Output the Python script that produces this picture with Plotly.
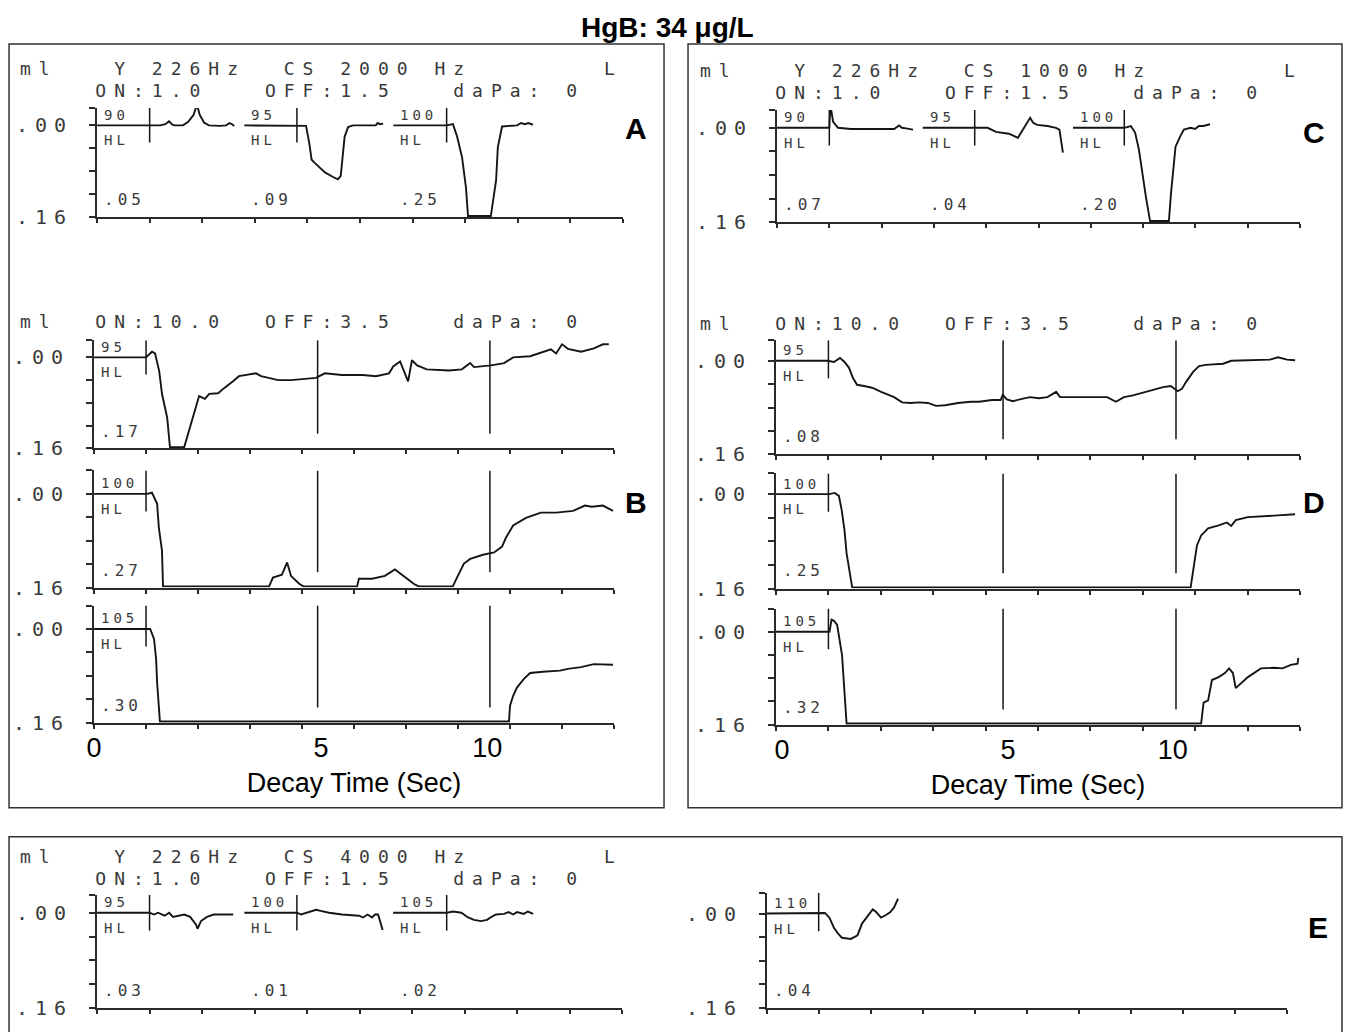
import plotly.graph_objects as go

# ---------------- data ----------------
X_TICKS = [0, 1.5, 3, 4.5, 6, 7.5, 9, 10.5, 12, 13.5, 15]          # s
Y_TICKS = [0, 0.04, 0.08, 0.12, 0.16]                               # ml
Y_TICK_TEXT = [".00", "", "", "", ".16"]
DECAY_TICK_TEXT = ["0", "5", "10"]
B_DECAY_TICK_POS = [0.0, 6.55, 11.34]
D_DECAY_TICK_POS = [0.17, 6.64, 11.36]
B_MARKS = [6.45, 11.42]          # 5 s / 10 s markers
D_MARKS = [6.5, 11.45]
MARK_BOTTOM = 0.134
ONSET_BOTTOM = 0.03

# Panel A : CS 2000 Hz
A_levels = ["90", "95", "100"]
A_amps = [".05", ".09", ".25"]
A_starts = [0.0, 4.2, 8.45]
A_onsets = [1.5, 5.7, 9.97]
A1_t = [0, 1.5, 1.8, 1.95, 2.05, 2.15, 2.22, 2.45, 2.6, 2.75, 2.85, 2.93, 3.05, 3.19, 3.5, 3.68, 3.78, 3.85, 3.91]
A1_v = [0, 0, 0, -0.002, -0.007, -0.001, 0, 0, -0.006, -0.018, -0.036, -0.018, -0.005, 0, 0.001, 0, -0.004, -0.002, 0.001]
A2_t = [4.2, 5.7, 5.96, 6.05, 6.12, 6.2, 6.5, 6.73, 6.87, 6.95, 7.0, 7.06, 7.16, 7.3, 7.95, 8.0, 8.07, 8.16]
A2_v = [0, 0, 0.001, 0.03, 0.06, 0.065, 0.082, 0.09, 0.094, 0.088, 0.06, 0.02, 0.003, 0, 0, -0.004, -0.002, -0.003]
A3_t = [8.45, 9.97, 10.15, 10.27, 10.41, 10.52, 10.58, 11.23, 11.38, 11.43, 11.55, 11.98, 12.09, 12.2, 12.3, 12.43]
A3_v = [0, 0, -0.002, 0.02, 0.056, 0.108, 0.158, 0.158, 0.096, 0.038, 0.002, 0, -0.004, -0.002, -0.004, -0.001]

# Panel B : decay, CS 2000 Hz
B_levels = ["95", "100", "105"]
B_amps = [".17", ".27", ".30"]
B_onset = 1.5
B1_t = [0, 1.5, 1.67, 1.76, 1.88, 1.96, 2.11, 2.19, 2.6, 2.71, 2.88, 2.97, 3.03, 3.2, 3.32, 3.58, 3.75, 4.01, 4.18,
        4.67, 4.82, 5.31, 5.68, 6.4, 6.66, 7.15, 7.76, 8.13, 8.51, 8.63, 8.83, 8.94, 9.06, 9.17, 9.32, 9.6, 10.24,
        10.61, 10.85, 10.96, 11.45, 11.83, 12.09, 12.58, 12.81, 13.18, 13.33, 13.5, 13.67, 14.05, 14.42, 14.68, 14.85]
B1_v = [0, 0, -0.01, -0.007, 0.024, 0.064, 0.106, 0.158, 0.158, 0.134, 0.099, 0.082, 0.068, 0.073, 0.064, 0.063, 0.054,
        0.042, 0.033, 0.028, 0.033, 0.040, 0.040, 0.036, 0.028, 0.031, 0.031, 0.033, 0.028, 0.016, 0.007, 0.024, 0.042,
        0.005, 0.014, 0.021, 0.023, 0.021, 0.010, 0.017, 0.014, 0.010, 0.0, -0.002, -0.007, -0.014, -0.007, -0.023,
        -0.015, -0.010, -0.016, -0.023, -0.023]
B2_t = [0, 1.53, 1.67, 1.82, 1.87, 1.96, 1.99, 5.05, 5.16, 5.42, 5.57, 5.68, 5.91, 6.03, 7.59, 7.64, 8.02, 8.39, 8.68,
        8.94, 9.26, 9.37, 10.35, 10.47, 10.67, 10.85, 11.22, 11.54, 11.77, 11.88, 12.09, 12.46, 12.89, 13.33, 13.82,
        14.16, 14.36, 14.68, 14.97]
B2_v = [0, 0, -0.002, 0.017, 0.058, 0.097, 0.158, 0.158, 0.143, 0.138, 0.117, 0.140, 0.153, 0.158, 0.158, 0.145, 0.145,
        0.140, 0.129, 0.140, 0.155, 0.158, 0.158, 0.143, 0.119, 0.111, 0.104, 0.100, 0.090, 0.075, 0.054, 0.041, 0.032,
        0.032, 0.029, 0.020, 0.022, 0.020, 0.029]
B3_t = [0, 1.47, 1.62, 1.73, 1.79, 1.82, 1.87, 1.9, 11.97, 12.0, 12.09, 12.2, 12.4, 12.58, 12.95, 13.44, 13.67, 14.05,
        14.42, 14.8, 14.97]
B3_v = [0, 0, 0.0, 0.017, 0.051, 0.092, 0.131, 0.158, 0.158, 0.131, 0.114, 0.100, 0.085, 0.075, 0.073, 0.071, 0.068,
        0.065, 0.060, 0.060, 0.061]

# Panel C : CS 1000 Hz
C_levels = ["90", "95", "100"]
C_amps = [".07", ".04", ".20"]
C_starts = [0.0, 4.18, 8.49]
C_onsets = [1.5, 5.67, 9.96]
C1_t = [0, 1.5, 1.53, 1.61, 1.75, 2.12, 2.72, 3.36, 3.5, 3.58, 3.7, 3.9]
C1_v = [0, 0, -0.039, -0.01, 0.0, 0.002, 0.002, 0.002, -0.004, 0.0, 0.001, 0.003]
C2_t = [4.18, 5.67, 6.04, 6.28, 6.65, 6.91, 7.08, 7.17, 7.26, 7.34, 7.46, 7.76, 8.0, 8.1, 8.19, 8.2]
C2_v = [0, 0, 0.0, 0.007, 0.01, 0.017, 0.0, -0.008, -0.017, -0.009, -0.005, -0.003, 0.0, 0.003, 0.037, 0.042]
C3_t = [8.49, 9.96, 10.15, 10.27, 10.38, 10.47, 10.58, 10.7, 11.24, 11.3, 11.37, 11.43, 11.56, 11.67, 11.86, 11.99,
        12.1, 12.23, 12.42]
C3_v = [0, 0, -0.003, 0.008, 0.037, 0.077, 0.117, 0.158, 0.158, 0.111, 0.066, 0.032, 0.015, 0.003, 0.0, 0.002, -0.003,
        -0.003, -0.006]

# Panel D : decay, CS 1000 Hz
D_levels = ["95", "100", "105"]
D_amps = [".08", ".25", ".32"]
D_onset = 1.5
D1_t = [0, 1.47, 1.66, 1.83, 1.96, 2.09, 2.2, 2.32, 2.52, 2.75, 3.01, 3.24, 3.38, 3.61, 3.86, 4.09, 4.35, 4.58, 4.84,
        5.21, 5.57, 5.81, 6.18, 6.43, 6.49, 6.61, 6.78, 7.04, 7.27, 7.53, 7.77, 8.02, 8.13, 8.5, 8.99, 9.48, 9.73, 9.96,
        10.22, 10.46, 10.7, 11.08, 11.3, 11.5, 11.62, 11.74, 11.94, 12.11, 12.3, 12.54, 12.8, 13.03, 13.4, 13.77, 14.14,
        14.37, 14.63, 14.86]
D1_v = [0, 0, 0.002, -0.005, 0.002, 0.012, 0.029, 0.041, 0.043, 0.046, 0.053, 0.058, 0.062, 0.071, 0.072, 0.071, 0.072,
        0.077, 0.076, 0.072, 0.070, 0.070, 0.067, 0.067, 0.058, 0.066, 0.069, 0.065, 0.062, 0.064, 0.062, 0.053, 0.062,
        0.062, 0.062, 0.062, 0.070, 0.062, 0.059, 0.055, 0.052, 0.045, 0.043, 0.052, 0.048, 0.036, 0.019, 0.009, 0.007,
        0.006, 0.005, 0.0, -0.001, -0.001, -0.002, -0.006, -0.002, -0.001]
D2_t = [0, 1.53, 1.68, 1.8, 1.88, 1.96, 2.02, 2.12, 2.18, 11.87, 12.0, 12.05, 12.17, 12.37, 12.67, 12.91, 13.03, 13.16,
        13.51, 13.88, 14.37, 14.86]
D2_v = [0, 0, -0.002, 0.003, 0.027, 0.061, 0.1, 0.141, 0.158, 0.158, 0.112, 0.087, 0.07, 0.058, 0.053, 0.048, 0.054,
        0.044, 0.039, 0.038, 0.036, 0.034]
D3_t = [0, 1.53, 1.59, 1.66, 1.75, 1.83, 1.89, 1.96, 2.02, 12.17, 12.24, 12.37, 12.43, 12.48, 12.67, 12.85, 12.97,
        13.08, 13.16, 13.29, 13.51, 13.88, 14.26, 14.5, 14.74, 14.93, 14.95]
D3_v = [0, 0, -0.021, -0.019, -0.012, 0.023, 0.04, 0.104, 0.158, 0.158, 0.122, 0.118, 0.097, 0.083, 0.078, 0.071, 0.063,
        0.071, 0.097, 0.090, 0.078, 0.063, 0.062, 0.063, 0.057, 0.055, 0.045]

# Panel E : CS 4000 Hz
E_levels = ["95", "100", "105"]
E_amps = [".03", ".01", ".02"]
E_starts = [0.0, 4.21, 8.46]
E_onsets = [1.5, 5.71, 9.99]
E1_t = [0, 1.5, 1.63, 1.74, 1.93, 2.06, 2.17, 2.33, 2.49, 2.66, 2.83, 2.87, 2.97, 3.14, 3.33, 3.89]
E1_v = [0, 0, 0.003, 0.0, 0.005, 0.0, 0.007, 0.005, 0.003, 0.007, 0.02, 0.027, 0.014, 0.007, 0.003, 0.003]
E2_t = [4.21, 5.71, 5.83, 6.02, 6.26, 6.39, 6.63, 7.0, 7.49, 7.6, 7.73, 7.86, 7.94, 8.03, 8.16]
E2_v = [0, 0, 0.003, 0.0, -0.005, -0.003, 0.0, 0.003, 0.005, 0.008, 0.003, 0.008, 0.003, 0.003, 0.029]
E3_t = [8.46, 9.99, 10.17, 10.41, 10.6, 10.77, 10.97, 11.14, 11.27, 11.4, 11.63, 11.76, 11.89, 12.0, 12.19, 12.31, 12.46]
E3_v = [0, 0, -0.002, 0.0, 0.008, 0.012, 0.014, 0.012, 0.007, 0.003, 0.002, -0.001, 0.003, -0.001, 0.002, -0.002, 0.002]
E4_levels = ["110"]
E4_amps = [".04"]
E4_starts = [0.0]
E4_onsets = [1.49]
E4_t = [0, 1.49, 1.67, 1.8, 1.93, 2.05, 2.16, 2.42, 2.61, 2.74, 2.86, 3.05, 3.14, 3.29, 3.42, 3.55, 3.66, 3.78]
E4_v = [0, 0, -0.001, 0.007, 0.024, 0.034, 0.041, 0.043, 0.037, 0.017, 0.007, -0.007, -0.003, 0.007, 0.003, -0.002,
        -0.01, -0.025]

HEAD_A = ["ml   Y 226Hz  CS 2000 Hz       L", "    ON:1.0   OFF:1.5   daPa: 0"]
HEAD_C = ["ml   Y 226Hz  CS 1000 Hz       L", "    ON:1.0   OFF:1.5   daPa: 0"]
HEAD_E = ["ml   Y 226Hz  CS 4000 Hz       L", "    ON:1.0   OFF:1.5   daPa: 0"]
HEAD_DECAY = "ml  ON:10.0  OFF:3.5   daPa: 0"
TITLE = "HgB: 34 μg/L"
X_TITLE = "Decay Time (Sec)"

# ---------------- styling / layout ----------------
# the page is photographed with an 8 px body margin and a slight rescale;
# the helpers below place items at the intended picture pixels
W, H = 1347, 1046
SX, SY = 1347 / 1355, 1032 / 1045
OX = 8
INK = "#151515"
AX = "#2a2a2a"
TXT = "#3a3a3a"
MONO = "DejaVu Sans Mono"
SANS = "Liberation Sans, Arial"


def fx(px):
    return (px / SX - OX) / W


def fy(py):
    return 1 - (py / SY) / H


def spaced(s, ls):
    return '<span style="letter-spacing:%spx">%s</span>' % (ls, s.replace(" ", "\u00a0"))


# key, x-domain px, y-domain px (top, bottom), y-range top
PANELS = [
    ("A", (97, 623), (108, 217), -0.03),
    ("B1", (94, 614), (340, 448), -0.03),
    ("B2", (94, 614), (470, 587), -0.04),
    ("B3", (94, 614), (605, 722), -0.04),
    ("C", (777, 1300), (110, 222), -0.03),
    ("D1", (776, 1300), (340, 454), -0.035),
    ("D2", (776, 1300), (473, 588), -0.035),
    ("D3", (776, 1300), (608, 724), -0.04),
    ("EL", (97, 622), (894, 1007), -0.03),
    ("ER", (767, 1287), (892, 1007), -0.035),
]

CONTENT = {
    "A": dict(segs=[(A1_t, A1_v), (A2_t, A2_v), (A3_t, A3_v)], levels=A_levels, amps=A_amps,
              starts=A_starts, onsets=A_onsets, marks=[]),
    "B1": dict(segs=[(B1_t, B1_v)], levels=B_levels[0:1], amps=B_amps[0:1], starts=[0.0], onsets=[B_onset], marks=B_MARKS),
    "B2": dict(segs=[(B2_t, B2_v)], levels=B_levels[1:2], amps=B_amps[1:2], starts=[0.0], onsets=[B_onset], marks=B_MARKS),
    "B3": dict(segs=[(B3_t, B3_v)], levels=B_levels[2:3], amps=B_amps[2:3], starts=[0.0], onsets=[B_onset], marks=B_MARKS),
    "C": dict(segs=[(C1_t, C1_v), (C2_t, C2_v), (C3_t, C3_v)], levels=C_levels, amps=C_amps,
              starts=C_starts, onsets=C_onsets, marks=[]),
    "D1": dict(segs=[(D1_t, D1_v)], levels=D_levels[0:1], amps=D_amps[0:1], starts=[0.0], onsets=[D_onset], marks=D_MARKS),
    "D2": dict(segs=[(D2_t, D2_v)], levels=D_levels[1:2], amps=D_amps[1:2], starts=[0.0], onsets=[D_onset], marks=D_MARKS),
    "D3": dict(segs=[(D3_t, D3_v)], levels=D_levels[2:3], amps=D_amps[2:3], starts=[0.0], onsets=[D_onset], marks=D_MARKS),
    "EL": dict(segs=[(E1_t, E1_v), (E2_t, E2_v), (E3_t, E3_v)], levels=E_levels, amps=E_amps,
               starts=E_starts, onsets=E_onsets, marks=[]),
    "ER": dict(segs=[(E4_t, E4_v)], levels=E4_levels, amps=E4_amps, starts=E4_starts, onsets=E4_onsets, marks=[]),
}

DECAY_AXES = {"B3": B_DECAY_TICK_POS, "D3": D_DECAY_TICK_POS}

fig = go.Figure()
layout = dict(width=W, height=H, margin=dict(l=0, r=0, t=0, b=0), paper_bgcolor="white",
              plot_bgcolor="white", showlegend=False)
annotations = []

for i, (key, xd, yd, ytop) in enumerate(PANELS, start=1):
    xa, ya = "x%d" % i, "y%d" % i
    c = CONTENT[key]
    for t, v in c["segs"]:
        fig.add_trace(go.Scatter(x=t, y=v, mode="lines", line=dict(color=INK, width=1.9),
                                 xaxis=xa, yaxis=ya, hoverinfo="skip"))
    ox, oy = [], []
    for o in c["onsets"]:
        ox += [o, o, None]
        oy += [ytop, ONSET_BOTTOM, None]
    for m in c["marks"]:
        ox += [m, m, None]
        oy += [ytop, MARK_BOTTOM, None]
    fig.add_trace(go.Scatter(x=ox, y=oy, mode="lines", line=dict(color=INK, width=1.5),
                             xaxis=xa, yaxis=ya, hoverinfo="skip"))
    for s, lev, amp in zip(c["starts"], c["levels"], c["amps"]):
        annotations.append(dict(x=s + 0.17, y=-0.018, xref=xa, yref=ya, text=spaced(lev, 4),
                                showarrow=False, xanchor="left", yanchor="middle", borderpad=0,
                                font=dict(family=MONO, size=14, color=TXT)))
        annotations.append(dict(x=s + 0.17, y=0.026, xref=xa, yref=ya, text=spaced("HL", 4),
                                showarrow=False, xanchor="left", yanchor="middle", borderpad=0,
                                font=dict(family=MONO, size=14, color=TXT)))
        annotations.append(dict(x=s + 0.17, y=0.13, xref=xa, yref=ya, text=spaced(amp, 4),
                                showarrow=False, xanchor="left", yanchor="middle", borderpad=0,
                                font=dict(family=MONO, size=16, color=TXT)))

    xaxis = dict(domain=[fx(xd[0]), fx(xd[1])], range=[0, 15], anchor=ya, showgrid=False, zeroline=False,
                 showline=True, linecolor=AX, linewidth=2, fixedrange=True)
    if key in DECAY_AXES:
        xaxis.update(tickmode="array", tickvals=DECAY_AXES[key], ticktext=DECAY_TICK_TEXT, ticks="",
                     showticklabels=True, tickfont=dict(family=SANS, size=27, color="black"),
                     ticklabelstandoff=0,
                     minor=dict(tickmode="array", tickvals=X_TICKS, ticks="outside", ticklen=4,
                                tickwidth=1.5, tickcolor=AX, showgrid=False),
                     title=dict(text=X_TITLE, font=dict(family=SANS, size=27, color="black"), standoff=11))
    else:
        xaxis.update(tickmode="array", tickvals=X_TICKS, ticks="outside", ticklen=4, tickwidth=1.5,
                     tickcolor=AX, showticklabels=False)
    yaxis = dict(domain=[fy(yd[1]), fy(yd[0])], range=[0.16, ytop], anchor=xa, showgrid=False, zeroline=False,
                 showline=True, linecolor=AX, linewidth=2, fixedrange=True,
                 tickmode="array", tickvals=[ytop] + Y_TICKS,
                 ticktext=[""] + [spaced(s, 7) if s else "" for s in Y_TICK_TEXT],
                 ticks="outside", ticklen=6, tickwidth=1.5, tickcolor=AX,
                 tickfont=dict(family=MONO, size=20, color=TXT), ticklabelstandoff=12)
    layout["xaxis" if i == 1 else "xaxis%d" % i] = xaxis
    layout["yaxis" if i == 1 else "yaxis%d" % i] = yaxis

# header lines of the printouts
HEADERS = [
    (HEAD_A[0], 19, 68), (HEAD_A[1], 19, 90),
    (HEAD_C[0], 699, 70), (HEAD_C[1], 699, 92),
    (HEAD_DECAY, 19, 321), (HEAD_DECAY, 699, 323),
    (HEAD_E[0], 19, 856), (HEAD_E[1], 19, 878),
]
for txt, px, py in HEADERS:
    annotations.append(dict(x=fx(px), y=fy(py), xref="paper", yref="paper", text=spaced(txt, 8.0),
                            showarrow=False, xanchor="left", yanchor="middle", borderpad=0,
                            font=dict(family=MONO, size=18, color=TXT)))

# panel letters
for letter, px, py in [("A", 636, 128), ("B", 636, 502), ("C", 1314, 132), ("D", 1314, 502), ("E", 1318, 927)]:
    annotations.append(dict(x=fx(px), y=fy(py), xref="paper", yref="paper", text="<b>%s</b>" % letter,
                            showarrow=False, xanchor="center", yanchor="middle",
                            font=dict(family=SANS, size=30, color="black")))

annotations.append(dict(x=fx(667), y=fy(27), xref="paper", yref="paper", text="<b>%s</b>" % TITLE,
                        showarrow=False, xanchor="center", yanchor="middle",
                        font=dict(family=SANS, size=28, color="black")))

shapes = []
for (x0, y0, x1, y1) in [(9, 44, 664, 807), (688, 44, 1342, 807), (9, 836, 1342, 1050)]:
    shapes.append(dict(type="rect", xref="paper", yref="paper", x0=fx(x0), x1=fx(x1), y0=fy(y1), y1=fy(y0),
                       line=dict(color="#333333", width=1.5), fillcolor="rgba(0,0,0,0)", layer="below"))

layout["annotations"] = annotations
layout["shapes"] = shapes
fig.update_layout(**layout)
fig.write_html("out.html")
